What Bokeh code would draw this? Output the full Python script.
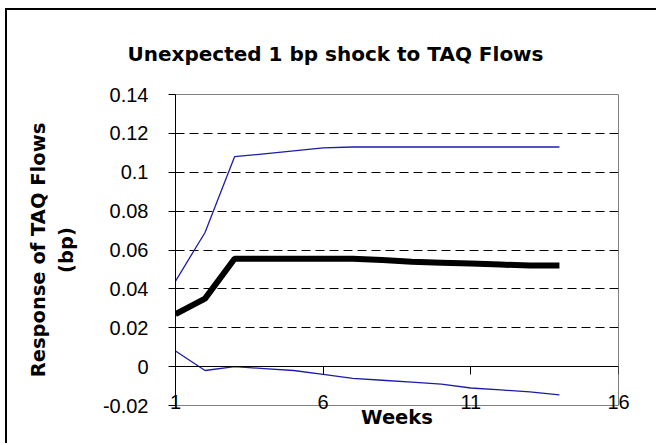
from bokeh.plotting import figure
from bokeh.models import LinearAxis, FixedTicker, NumeralTickFormatter, Range1d, Title
from bokeh.embed import file_html
from bokeh.resources import INLINE

weeks = [1, 2, 3, 4, 5, 6, 7, 8, 9, 10, 11, 12, 13, 14]
upper = [0.044, 0.069, 0.108, 0.1095, 0.111, 0.1125, 0.113, 0.113, 0.113, 0.113, 0.113, 0.113, 0.113, 0.113]
response = [0.027, 0.035, 0.0555, 0.0555, 0.0555, 0.0555, 0.0555, 0.0548, 0.054, 0.0535, 0.053, 0.0525, 0.052, 0.052]
lower = [0.008, -0.002, 0.0, -0.001, -0.002, -0.004, -0.006, -0.007, -0.008, -0.009, -0.011, -0.012, -0.013, -0.0145]

x_ticks = [1, 6, 11, 16]
y_ticks = [-0.02, 0.0, 0.02, 0.04, 0.06, 0.08, 0.10, 0.12, 0.14]
grid_ticks = [0.02, 0.04, 0.06, 0.08, 0.10, 0.12]
title_text = "Unexpected 1 bp shock to TAQ Flows"

p = figure(width=651, height=435, output_backend="svg", toolbar_location=None,
           x_range=Range1d(1, 16), y_range=Range1d(-0.02, 0.14),
           x_axis_location=None, y_axis_location=None,
           min_border_left=168, min_border_right=40, min_border_top=84, min_border_bottom=40)
p.styles = {"border-left": "2px solid black", "border-top": "2px solid black",
            "margin-left": "5px", "margin-top": "8px"}
p.background_fill_color = "white"
p.border_fill_color = "white"
p.outline_line_color = "#808080"
p.outline_line_width = 1

title = Title(text=title_text, align="left",
              text_font="DejaVu Sans", text_font_style="bold", text_font_size="20px",
              text_color="black", offset=-48, standoff=57)
p.add_layout(title, "above")

# y axis
yax = LinearAxis(ticker=FixedTicker(ticks=y_ticks), formatter=NumeralTickFormatter(format="0.[00]"))
yax.axis_line_color = "black"
yax.major_tick_line_color = "black"
yax.major_tick_out = 7
yax.major_tick_in = 0
yax.minor_tick_line_color = None
yax.major_label_text_font = "Liberation Sans"
yax.major_label_text_font_size = "20px"
yax.major_label_text_color = "black"
yax.major_label_standoff = 20
yax.axis_label = "Response of TAQ Flows\n(bp)"
yax.axis_label_text_font = "DejaVu Sans"
yax.axis_label_text_font_style = "bold"
yax.axis_label_text_font_size = "19.5px"
yax.axis_label_text_color = "black"
yax.axis_label_standoff = 22
p.add_layout(yax, "left")

# x axis labels at the bottom
xax = LinearAxis(ticker=FixedTicker(ticks=x_ticks))
xax.axis_line_color = None
xax.major_tick_line_color = None
xax.minor_tick_line_color = None
xax.major_tick_out = 0
xax.major_tick_in = 0
xax.major_label_text_font = "Liberation Sans"
xax.major_label_text_font_size = "20px"
xax.major_label_text_color = "black"
xax.major_label_standoff = -11
xax.axis_label = "Weeks"
xax.axis_label_text_font = "DejaVu Sans"
xax.axis_label_text_font_style = "bold"
xax.axis_label_text_font_size = "19.5px"
xax.axis_label_text_color = "black"
xax.axis_label_standoff = -6
p.add_layout(xax, "below")

# x axis line crossing at zero
zax = LinearAxis(ticker=FixedTicker(ticks=x_ticks), fixed_location=0)
zax.axis_line_color = "black"
zax.major_tick_line_color = "black"
zax.major_tick_in = 8
zax.major_tick_out = 0
zax.minor_tick_line_color = None
zax.major_label_text_font_size = "0px"
zax.major_label_text_alpha = 0
zax.major_label_standoff = 0
p.add_layout(zax, "above")

p.xgrid.visible = False
p.ygrid.ticker = FixedTicker(ticks=grid_ticks)
p.ygrid.grid_line_color = "black"
p.ygrid.grid_line_width = 1
p.ygrid.grid_line_dash = "9 5"

p.line(weeks, upper, line_color="#1c1ca8", line_width=1.3)
p.line(weeks, lower, line_color="#1c1ca8", line_width=1.3)
p.line(weeks, response, line_color="black", line_width=6)

open("out.html", "w").write(file_html(p, INLINE))
